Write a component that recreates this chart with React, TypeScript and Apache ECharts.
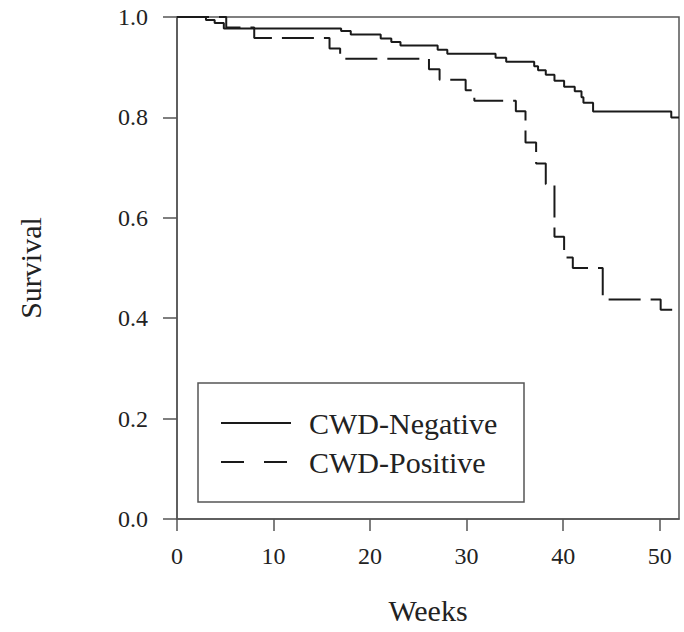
import React, { useEffect, useRef } from "react";
import * as echarts from "echarts";

const negWeeks = [0, 3.0, 3.9, 4.85, 17.0, 18.0, 21.1, 22.2, 23.15, 27.0, 28.0, 33.0, 34.1, 37.0, 37.4, 38.2, 39.1, 40.1, 41.2, 41.9, 42.1, 43.1, 51.2, 52];
const negSurv = [1, 0.994, 0.988, 0.977, 0.972, 0.965, 0.957, 0.95, 0.943, 0.935, 0.927, 0.919, 0.911, 0.902, 0.894, 0.885, 0.873, 0.861, 0.852, 0.84, 0.829, 0.812, 0.8, 0.8];

const posWeeks = [0, 5.1, 8.0, 15.8, 16.9, 26.1, 27.2, 29.9, 30.8, 35.1, 36.1, 37.2, 38.2, 39.1, 40.1, 41.0, 44.1, 50.1, 52];
const posSurv = [1, 0.979, 0.958, 0.9375, 0.917, 0.896, 0.875, 0.854, 0.833, 0.8125, 0.75, 0.708, 0.667, 0.5625, 0.521, 0.5, 0.4375, 0.4167, 0.4167];

const xTicks = [0, 10, 20, 30, 40, 50];
const yTicks = [0, 0.2, 0.4, 0.6, 0.8, 1.0];

const seriesNames = ["CWD-Negative", "CWD-Positive"];
const xName = "Weeks";
const yName = "Survival";

const FONT = "'Liberation Serif', 'Times New Roman', serif";
const AXIS = "#555";
const INK = "#1a1a1a";
const HIDDEN = "rgba(0,0,0,0)";

export default function App() {
  const ref = useRef<HTMLDivElement>(null);
  useEffect(() => {
    if (!ref.current) return;
    const chart = echarts.init(ref.current, undefined, { renderer: "svg" });
    const neg = negWeeks.map((w, i) => [w, negSurv[i]]);
    const pos = posWeeks.map((w, i) => [w, posSurv[i]]);
    chart.setOption({
      animation: false,
      backgroundColor: "#fff",
      grid: {
        left: 177,
        top: 17,
        right: 5,
        bottom: 113,
        show: true,
        borderColor: AXIS,
        borderWidth: 1.5,
      },
      xAxis: {
        type: "value",
        min: 0,
        max: 52,
        interval: 10,
        name: xName,
        nameLocation: "middle",
        nameGap: 76,
        nameTextStyle: { fontFamily: FONT, fontSize: 30, color: "#222" },
        axisLine: { show: true, lineStyle: { color: AXIS, width: 1.5 } },
        axisTick: { show: true, inside: false, length: 12, lineStyle: { color: AXIS, width: 1.5 }, customValues: xTicks },
        axisLabel: {
          margin: 25,
          fontFamily: FONT,
          fontSize: 24,
          color: "#222",
          customValues: xTicks,
          formatter: (v: number) => (xTicks.includes(v) ? String(v) : ""),
        },
        splitLine: { show: false },
      },
      yAxis: {
        type: "value",
        min: 0,
        max: 1,
        interval: 0.2,
        name: yName,
        nameLocation: "middle",
        nameGap: 132,
        nameRotate: 90,
        nameTextStyle: { fontFamily: FONT, fontSize: 30, color: "#222" },
        axisLine: { show: true, lineStyle: { color: AXIS, width: 1.5 } },
        axisTick: { show: true, inside: false, length: 14, lineStyle: { color: AXIS, width: 1.5 }, customValues: yTicks },
        axisLabel: {
          margin: 29,
          fontFamily: FONT,
          fontSize: 24,
          color: "#222",
          customValues: yTicks,
          formatter: (v: number) => v.toFixed(1),
        },
        splitLine: { show: false },
      },
      legend: {
        orient: "vertical",
        left: 220,
        top: 408,
        itemWidth: 70,
        itemHeight: 20,
        itemGap: 9,
        padding: 0,
        textStyle: { fontFamily: FONT, fontSize: 30, color: "#222", lineHeight: 30, padding: [0, 0, 0, 13] },
        data: [
          {
            name: seriesNames[0],
            itemStyle: { color: HIDDEN, borderColor: HIDDEN, borderWidth: 0, opacity: 0 },
            lineStyle: { type: "solid", width: 2, color: INK, opacity: 1 },
          },
          {
            name: seriesNames[1],
            itemStyle: { color: HIDDEN, borderColor: HIDDEN, borderWidth: 0, opacity: 0 },
            lineStyle: { type: [23, 20], width: 2, color: INK, opacity: 1 },
          },
        ],
      },
      graphic: [
        {
          type: "rect",
          shape: { x: 198, y: 383, width: 326, height: 119 },
          style: { fill: "none", stroke: AXIS, lineWidth: 1.5 },
          z: 10,
        },
      ],
      series: [
        {
          name: seriesNames[0],
          type: "line",
          step: "end",
          data: neg,
          showSymbol: false,
          symbol: "none",
          lineStyle: { color: INK, width: 2, type: "solid" },
          itemStyle: { color: INK },
        },
        {
          name: seriesNames[1],
          type: "line",
          step: "end",
          data: pos,
          showSymbol: false,
          symbol: "none",
          lineStyle: { color: INK, width: 2, type: [32, 10] },
          itemStyle: { color: INK },
        },
      ],
    });
    return () => chart.dispose();
  }, []);
  return (
    <div
      ref={ref}
      style={{ position: "fixed", left: 0, top: 0, width: 684, height: 632, background: "#fff" }}
    />
  );
}
